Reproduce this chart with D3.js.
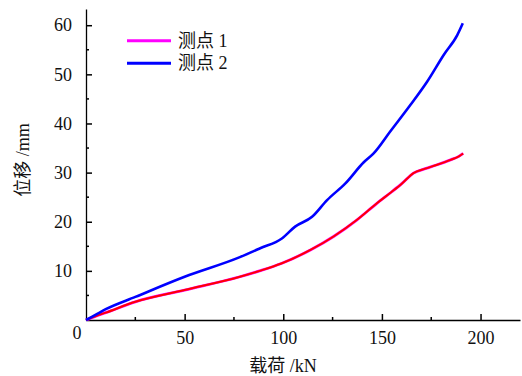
<!DOCTYPE html>
<html>
<head>
<meta charset="utf-8">
<script src="https://cdn.jsdelivr.net/npm/d3@7"></script>
<style>
  body { margin: 0; background: #fff; }
  text { font-family: "Liberation Serif", "Noto Sans CJK SC", serif; fill: #111; }
</style>
</head>
<body>
<div id="chart"></div>
<script>
const width = 522;
const height = 376;

// Données (charge kN, déplacement mm)
const load1 = [0, 5, 10, 25, 50, 78, 88, 99, 114, 125.5, 137.4, 147.6, 155, 160.2, 166, 172, 178, 184.8, 189, 191.2];
const disp1 = [0, 0.8, 1.5, 3.7, 6.1, 8.8, 10.0, 11.5, 14.3, 17.0, 20.4, 23.8, 26.1, 27.8, 29.9, 30.8, 31.6, 32.6, 33.3, 33.9];

const load2 = [0, 5, 10, 25, 50, 78, 88.3, 99.3, 106, 114.6, 122.2, 131.5, 140.8, 145.8, 154.3, 164.5, 172.9, 181.4, 188.2, 191];
const disp2 = [0, 1.1, 2.2, 4.7, 8.8, 12.8, 14.6, 16.6, 19.0, 21.0, 24.4, 27.8, 32.1, 33.9, 38.4, 43.8, 48.5, 54.0, 58.0, 60.4];

const xTicks = [50, 100, 150, 200];
const xMinor = [25, 75, 125, 175];
const yTicks = [10, 20, 30, 40, 50, 60];
const yMinor = [5, 15, 25, 35, 45, 55];
const seriesNames = ["测点 1", "测点 2"];

const margin = { left: 86, right: 2, top: 9, bottom: 56 };

const x = d3.scaleLinear().domain([0, 220]).range([margin.left, width - margin.right]);
const y = d3.scaleLinear().domain([0, 63.3]).range([height - margin.bottom, margin.top]);

const svg = d3.select("#chart").append("svg")
    .attr("width", width)
    .attr("height", height);

// Axes
const xAxis = svg.append("g")
    .attr("transform", `translate(0,${y(0)})`)
    .call(d3.axisBottom(x).tickValues(xTicks).tickSizeInner(-6).tickSizeOuter(0).tickPadding(14));
xAxis.selectAll("text").attr("font-size", "18px").attr("dy", "0.55em");
xAxis.selectAll("line").attr("stroke-width", 1.5);

xAxis.selectAll(".minor").data(xMinor).join("line")
    .attr("class", "minor")
    .attr("x1", d => x(d)).attr("x2", d => x(d))
    .attr("y1", 0).attr("y2", -3)
    .attr("stroke", "#000").attr("stroke-width", 1.5);

const yAxis = svg.append("g")
    .attr("transform", `translate(${x(0)},0)`)
    .call(d3.axisLeft(y).tickValues(yTicks).tickSizeInner(-6).tickSizeOuter(0).tickPadding(14));
yAxis.selectAll("text").attr("font-size", "18px");
yAxis.selectAll("line").attr("stroke-width", 1.5);

yAxis.selectAll(".minor").data(yMinor).join("line")
    .attr("class", "minor")
    .attr("y1", d => y(d)).attr("y2", d => y(d))
    .attr("x1", 0).attr("x2", 3)
    .attr("stroke", "#000").attr("stroke-width", 1.5);

svg.selectAll(".domain").attr("stroke", "#000").attr("stroke-width", 1.3);

// "0" du coin
svg.append("text")
    .attr("x", x(0) - 9).attr("y", y(0) + 19)
    .attr("text-anchor", "middle")
    .attr("font-size", "18px")
    .text("0");

// Titres des axes
svg.append("text")
    .attr("x", 283).attr("y", 372)
    .attr("text-anchor", "middle")
    .attr("font-size", "18px")
    .text("载荷 /kN");

svg.append("text")
    .attr("transform", "translate(29,160) rotate(-90)")
    .attr("text-anchor", "middle")
    .attr("font-size", "18px")
    .text("位移 /mm");

// Courbes
const line = d3.line().x(d => x(d[0])).y(d => y(d[1])).curve(d3.curveMonotoneX);
const pts1 = load1.map((v, i) => [v, disp1[i]]);
const pts2 = load2.map((v, i) => [v, disp2[i]]);

svg.append("path").datum(pts1)
    .attr("d", line).attr("fill", "none")
    .attr("stroke", "#ff00ff").attr("stroke-width", 2.8);
svg.append("path").datum(pts1)
    .attr("d", line).attr("fill", "none")
    .attr("stroke", "#ff0000").attr("stroke-width", 2);
svg.append("path").datum(pts2)
    .attr("d", line).attr("fill", "none")
    .attr("stroke", "#0000ff").attr("stroke-width", 2.6);

// Légende
const legendColors = ["#ff00ff", "#0000ff"];
const legend = svg.append("g");
seriesNames.forEach((name, i) => {
    const ly = 40.7 + i * 22.6;
    legend.append("line")
        .attr("x1", 127).attr("x2", 171)
        .attr("y1", ly).attr("y2", ly)
        .attr("stroke", legendColors[i]).attr("stroke-width", 3);
    legend.append("text")
        .attr("x", 178).attr("y", ly + 6)
        .attr("font-size", "18px")
        .text(name);
});
</script>
</body>
</html>
